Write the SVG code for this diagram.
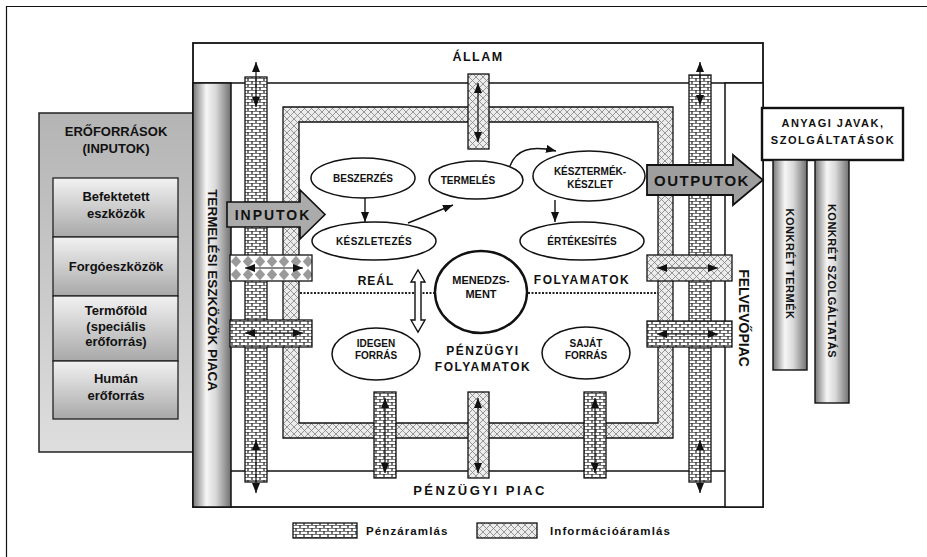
<svg xmlns="http://www.w3.org/2000/svg" width="927" height="557" viewBox="0 0 927 557">
<style>
text{font-family:"Liberation Sans",Arial,sans-serif;font-weight:bold;fill:#111;text-anchor:middle}
.ln{fill:none;stroke:#111;stroke-width:1.6}
.el{fill:#fff;stroke:#111;stroke-width:1.5}
.bar{stroke:#111;stroke-width:1.3}
.dbl{stroke:#111;stroke-width:1.2;fill:none;marker-start:url(#ah);marker-end:url(#ah)}
.flow{stroke:#111;stroke-width:1.4;fill:none;marker-end:url(#fh)}
.et{font-size:10px}
.lp{font-size:13px}
</style>
<defs>
<pattern id="brick" width="8" height="6" patternUnits="userSpaceOnUse">
<rect width="8" height="6" fill="#222"/>
<rect x="0.6" y="0.6" width="6.8" height="2.4" fill="#fff"/>
<rect x="4.6" y="3.6" width="6.8" height="2.4" fill="#fff"/>
<rect x="-3.4" y="3.6" width="6.8" height="2.4" fill="#fff"/>
</pattern>
<pattern id="hatch" width="7" height="7" patternUnits="userSpaceOnUse">
<rect width="7" height="7" fill="#ececec"/>
<path d="M0,0L7,7M7,0L0,7" stroke="#808080" stroke-width="0.8"/>
</pattern>
<pattern id="diam" width="12" height="13" patternUnits="userSpaceOnUse" x="230" y="255">
<rect width="12" height="13" fill="#fff"/>
<path d="M6,0.8L11.2,6.5L6,12.2L0.8,6.5z" fill="#9a9a9a"/>
</pattern>
<linearGradient id="cyl" x1="0" y1="0" x2="1" y2="0">
<stop offset="0" stop-color="#777"/>
<stop offset="0.35" stop-color="#f6f6f6"/>
<stop offset="0.6" stop-color="#d8d8d8"/>
<stop offset="1" stop-color="#707070"/>
</linearGradient>
<linearGradient id="panel" x1="0" y1="0" x2="0" y2="1">
<stop offset="0" stop-color="#b4b4b4"/>
<stop offset="1" stop-color="#dedede"/>
</linearGradient>
<linearGradient id="box" x1="0" y1="0" x2="0" y2="1">
<stop offset="0" stop-color="#f2f2f2"/>
<stop offset="1" stop-color="#a8a8a8"/>
</linearGradient>
<marker id="ah" viewBox="0 0 10 8" refX="10" refY="4" markerWidth="10" markerHeight="8" markerUnits="userSpaceOnUse" orient="auto-start-reverse">
<path d="M0,0L10,4L0,8z" fill="#111"/>
</marker>
<marker id="fh" viewBox="0 0 10 8" refX="10" refY="4" markerWidth="10" markerHeight="8" markerUnits="userSpaceOnUse" orient="auto">
<path d="M0,0L10,4L0,8z" fill="#111"/>
</marker>
</defs>
<rect width="927" height="557" fill="#fff"/>
<path d="M6.5,557V6.5H927" fill="none" stroke="#111" stroke-width="1.2"/>

<g id="eroforrasok">
<rect x="39" y="113" width="154" height="339" fill="url(#panel)" stroke="#222" stroke-width="1.5"/>
<text x="116" y="136" class="lp">ERŐFORRÁSOK</text>
<text x="116" y="153" class="lp">(INPUTOK)</text>
</g>
<g id="befektetett">
<rect x="53" y="178" width="125" height="59" fill="url(#box)" stroke="#222" stroke-width="1.3"/>
<text x="116" y="201" class="lp">Befektetett</text>
<text x="116" y="218" class="lp">eszközök</text>
</g>
<g id="forgoeszkozok">
<rect x="53" y="237" width="125" height="59" fill="url(#box)" stroke="#222" stroke-width="1.3"/>
<text x="116" y="271" class="lp">Forgóeszközök</text>
</g>
<g id="termofold">
<rect x="53" y="296" width="125" height="65" fill="url(#box)" stroke="#222" stroke-width="1.3"/>
<text x="116" y="315" class="lp">Termőföld</text>
<text x="116" y="331" class="lp">(speciális</text>
<text x="116" y="346" class="lp">erőforrás)</text>
</g>
<g id="human">
<rect x="53" y="361" width="125" height="58" fill="url(#box)" stroke="#222" stroke-width="1.3"/>
<text x="116" y="383" class="lp">Humán</text>
<text x="116" y="400" class="lp">erőforrás</text>
</g>

<g id="frame">
<rect x="193" y="43" width="570" height="464" fill="#fff" stroke="#111" stroke-width="1.8"/>
<line x1="193" y1="83" x2="763" y2="83" class="ln"/>
<line x1="231" y1="471" x2="725" y2="471" class="ln"/>
<text x="478" y="61" style="font-size:12.5px;letter-spacing:1.5px">ÁLLAM</text>
<text x="480" y="495" style="font-size:13px;letter-spacing:2.5px">PÉNZÜGYI PIAC</text>
</g>
<g id="termelesi-piac">
<rect x="193" y="83" width="38" height="424" fill="url(#cyl)" stroke="#111" stroke-width="1.5"/>
<text transform="translate(207.5,290) rotate(90)" style="font-size:13.5px">TERMELÉSI ESZKÖZÖK PIACA</text>
</g>
<g id="felvevopiac">
<rect x="725" y="83" width="38" height="424" fill="#fff" stroke="#111" stroke-width="1.5"/>
<text transform="translate(739,318) rotate(90)" style="font-size:14px">FELVEVŐPIAC</text>
</g>

<g id="info-ring">
<path d="M283,107H673V438H283ZM299,122V423H658V122Z" fill="url(#hatch)" fill-rule="evenodd" class="bar"/>
</g>
<g id="penz-bal">
<rect x="245" y="77" width="22" height="405" fill="url(#brick)" class="bar"/>
</g>
<g id="penz-jobb">
<rect x="689" y="75" width="22" height="407" fill="url(#brick)" class="bar"/>
</g>
<g id="allam-info">
<rect x="468" y="74" width="21" height="75" fill="url(#hatch)" class="bar"/>
</g>
<g id="penz-idegen">
<rect x="374" y="392" width="22" height="86" fill="url(#brick)" class="bar"/>
</g>
<g id="info-piac">
<rect x="468" y="392" width="21" height="86" fill="url(#hatch)" class="bar"/>
</g>
<g id="penz-sajat">
<rect x="584" y="392" width="22" height="86" fill="url(#brick)" class="bar"/>
</g>
<g id="bal-real">
<rect x="230" y="255" width="82" height="26" fill="url(#diam)" class="bar"/>
</g>
<g id="bal-penz">
<rect x="230" y="320" width="82" height="27" fill="url(#brick)" class="bar"/>
</g>
<g id="jobb-info">
<rect x="647" y="255" width="85" height="26" fill="url(#hatch)" class="bar"/>
</g>
<g id="jobb-penz">
<rect x="647" y="321" width="85" height="26" fill="url(#brick)" class="bar"/>
</g>

<g id="inputok">
<polygon points="227,202 300,202 300,190 325,214.5 300,239 300,227 227,227" fill="#ababab" stroke="#111" stroke-width="1.6"/>
<text x="273" y="220" style="font-size:14px;letter-spacing:2px">INPUTOK</text>
</g>
<g id="outputok">
<polygon points="647,165 733,165 733,155 763,180 733,205 733,195 647,195" fill="#9e9e9e" stroke="#111" stroke-width="1.8"/>
<text x="702" y="186" style="font-size:15px;letter-spacing:1.5px">OUTPUTOK</text>
</g>

<g id="anyagi-javak">
<rect x="762" y="108" width="141" height="52" fill="#fff" stroke="#111" stroke-width="2.4"/>
<text x="833" y="127" style="font-size:11px;letter-spacing:1.5px">ANYAGI JAVAK,</text>
<text x="833" y="144" style="font-size:11px;letter-spacing:1.5px">SZOLGÁLTATÁSOK</text>
</g>
<g id="konkret-termek">
<rect x="773" y="160" width="34" height="210" fill="url(#cyl)" stroke="#111" stroke-width="1.4"/>
<text transform="translate(786,264) rotate(90)" style="font-size:11px;letter-spacing:0.5px">KONKRÉT TERMÉK</text>
</g>
<g id="konkret-szolgaltatas">
<rect x="815" y="160" width="34" height="243" fill="url(#cyl)" stroke="#111" stroke-width="1.4"/>
<text transform="translate(828,281) rotate(90)" style="font-size:11px;letter-spacing:0.5px">KONKRÉT SZOLGÁLTATÁS</text>
</g>

<g id="connectors">
<line x1="365" y1="198" x2="365" y2="222" class="flow"/>
<line x1="408" y1="223" x2="453" y2="205" class="flow"/>
<path d="M510,166C516,150 530,145 556,151" class="flow"/>
<line x1="555" y1="200" x2="555" y2="222" class="flow"/>
<line x1="300" y1="293" x2="435" y2="293" stroke="#222" stroke-width="2" stroke-dasharray="2,1.5"/>
<line x1="528" y1="293" x2="658" y2="293" stroke="#222" stroke-width="2" stroke-dasharray="2,1.5"/>
<polygon points="418,270 425,282 421,282 421,320 425,320 418,332 411,320 415,320 415,282 411,282" fill="#fff" stroke="#111" stroke-width="1.4"/>
<line x1="256" y1="62" x2="256" y2="107" class="dbl"/>
<line x1="256" y1="440" x2="256" y2="493" class="dbl"/>
<line x1="700" y1="62" x2="700" y2="105" class="dbl"/>
<line x1="700" y1="440" x2="700" y2="493" class="dbl"/>
<line x1="478" y1="83" x2="478" y2="142" class="dbl"/>
<line x1="385" y1="398" x2="385" y2="473" class="dbl"/>
<line x1="478" y1="398" x2="478" y2="473" class="dbl"/>
<line x1="595" y1="398" x2="595" y2="473" class="dbl"/>
<line x1="245" y1="268" x2="303" y2="268" class="dbl"/>
<line x1="245" y1="333" x2="303" y2="333" class="dbl"/>
<line x1="657" y1="268" x2="718" y2="268" class="dbl"/>
<line x1="657" y1="334" x2="718" y2="334" class="dbl"/>
</g>

<g id="beszerzes">
<ellipse cx="363" cy="178" rx="52" ry="20" class="el"/>
<text x="363" y="182" class="et">BESZERZÉS</text>
</g>
<g id="keszletezes">
<ellipse cx="374" cy="241" rx="62" ry="19" class="el"/>
<text x="374" y="245" class="et" style="letter-spacing:0.4px">KÉSZLETEZÉS</text>
</g>
<g id="termeles">
<ellipse cx="476" cy="180" rx="47" ry="19" class="el"/>
<text x="468" y="184" class="et">TERMELÉS</text>
</g>
<g id="keszkeszlet">
<ellipse cx="589" cy="176" rx="56" ry="25" class="el"/>
<text x="590" y="175" class="et">KÉSZTERMÉK-</text>
<text x="590" y="188" class="et">KÉSZLET</text>
</g>
<g id="ertekesites">
<ellipse cx="582" cy="241" rx="62" ry="19" class="el"/>
<text x="582" y="245" class="et">ÉRTÉKESÍTÉS</text>
</g>
<g id="menedzsment">
<ellipse cx="481" cy="292" rx="46" ry="41" fill="#fff" stroke="#111" stroke-width="2.4"/>
<text x="481" y="284" style="font-size:11px">MENEDZS-</text>
<text x="481" y="298" style="font-size:11px">MENT</text>
</g>
<g id="idegen">
<ellipse cx="376" cy="354" rx="44" ry="26" class="el"/>
<text x="376" y="347" class="et">IDEGEN</text>
<text x="376" y="359" class="et">FORRÁS</text>
</g>
<g id="sajat">
<ellipse cx="586" cy="353" rx="44" ry="26" class="el"/>
<text x="586" y="347" class="et">SAJÁT</text>
<text x="586" y="359" class="et">FORRÁS</text>
</g>
<g id="labels">
<text x="376" y="285" style="font-size:12px;letter-spacing:1px">REÁL</text>
<text x="582" y="284" style="font-size:12px;letter-spacing:1.5px">FOLYAMATOK</text>
<text x="483" y="355" style="font-size:12px;letter-spacing:1.5px">PÉNZÜGYI</text>
<text x="483" y="371" style="font-size:12px;letter-spacing:1.5px">FOLYAMATOK</text>
</g>
<g id="legend">
<rect x="293" y="523" width="64" height="15" fill="url(#brick)" stroke="#111" stroke-width="1.3"/>
<text x="366" y="535" style="font-size:11.5px;letter-spacing:1.1px;text-anchor:start">Pénzáramlás</text>
<rect x="477" y="523" width="60" height="15" fill="url(#hatch)" stroke="#111" stroke-width="1.3"/>
<text x="550" y="535" style="font-size:11.5px;letter-spacing:1.1px;text-anchor:start">Információáramlás</text>
</g>
</svg>
